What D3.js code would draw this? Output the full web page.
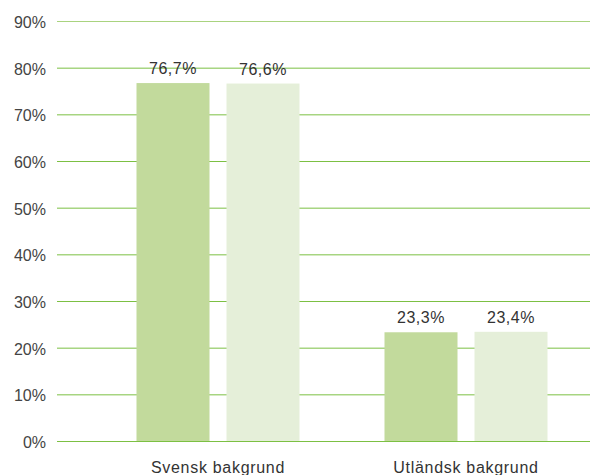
<!DOCTYPE html>
<html>
<head>
<meta charset="utf-8">
<script src="https://cdn.jsdelivr.net/npm/d3@7"></script>
<style>
  body { margin: 0; background: #fff; }
  text { font-family: "Liberation Sans", Arial, sans-serif; fill: #333; letter-spacing: 0.5px; }
</style>
</head>
<body>
<svg id="chart" width="590" height="475"></svg>
<script>
"use strict"

const categories = ["Svensk bakgrund", "Utländsk bakgrund"]
const seriesA = [76.7, 23.3]
const seriesB = [76.6, 23.4]
const yTicks = [0, 10, 20, 30, 40, 50, 60, 70, 80, 90]

const width = 590
const height = 475
const gridLeft = 57
const colors = ["#c2da9c", "#e5efd9"]

const svg = d3.select("#chart")

const y = d3.scaleLinear().domain([0, 90]).range([441, 21])
const x = d3.scaleBand().domain(categories).range([94, 590]).paddingInner(0).paddingOuter(0)

const rows = categories.map((c, i) => ({ cat: c, values: [seriesA[i], seriesB[i]] }))

// gridlines
svg.append("g")
  .selectAll("line")
  .data(yTicks)
  .enter().append("line")
    .attr("x1", gridLeft)
    .attr("x2", width)
    .attr("y1", d => y(d) + 0.5)
    .attr("y2", d => y(d) + 0.5)
    .attr("stroke", d => d === 90 ? "#a9d37f" : "#7cc043")
    .attr("stroke-width", 1)

// y tick labels
svg.append("g")
  .selectAll("text")
  .data(yTicks)
  .enter().append("text")
    .attr("x", 46)
    .attr("y", d => y(d) + 7)
    .attr("text-anchor", "end")
    .style("font-size", "16px")
    .style("letter-spacing", "0px")
    .style("fill", "#444")
    .text(d => d + "%")

const barW = 73
const gap = 17

const groups = svg.append("g")
  .selectAll("g")
  .data(rows)
  .enter().append("g")
    .attr("transform", d => "translate(" + (x(d.cat) + x.bandwidth() / 2) + ",0)")

groups.selectAll("rect")
  .data(d => d.values)
  .enter().append("rect")
    .attr("x", (d, i) => i === 0 ? -gap / 2 - barW : gap / 2)
    .attr("width", barW)
    .attr("y", d => y(d))
    .attr("height", d => y(0) - y(d))
    .attr("fill", (d, i) => colors[i])

groups.selectAll("text.val")
  .data(d => d.values)
  .enter().append("text")
    .attr("class", "val")
    .attr("x", (d, i) => i === 0 ? -gap / 2 - barW / 2 : gap / 2 + barW / 2)
    .attr("y", d => y(d) - 9)
    .attr("text-anchor", "middle")
    .style("font-size", "16px")
    .text(d => d.toFixed(1).replace(".", ",") + "%")

// category labels
svg.append("g")
  .selectAll("text")
  .data(categories)
  .enter().append("text")
    .attr("x", d => x(d) + x.bandwidth() / 2)
    .attr("y", 473)
    .attr("text-anchor", "middle")
    .style("font-size", "16px")
    .style("letter-spacing", "0.7px")
    .text(d => d)
</script>
</body>
</html>
